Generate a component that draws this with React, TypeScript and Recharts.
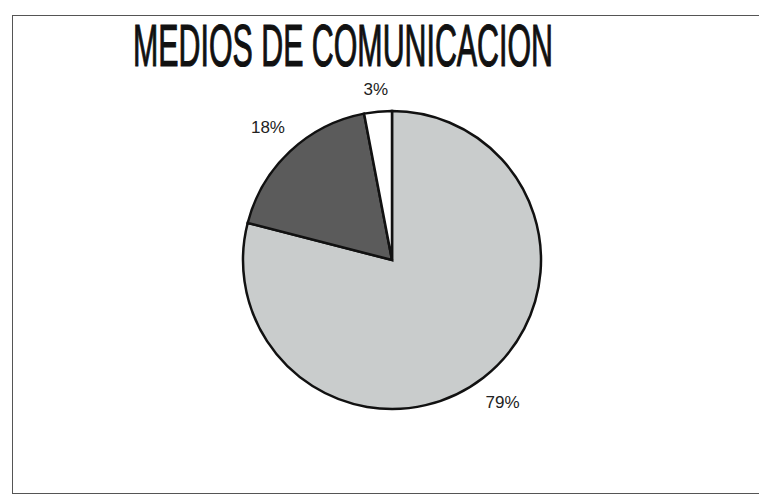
import { useLayoutEffect, useRef, useState } from 'react';
import { PieChart, Pie, Cell } from 'recharts';

const categories = ['Medio A', 'Medio B', 'Medio C'];
const values = [79, 18, 3];
const labels = ['79%', '18%', '3%'];
const colors = ['#c9cccc', '#5b5b5b', '#ffffff'];

const data = categories.map((name, i) => ({ name, value: values[i], label: labels[i] }));

const RAD = Math.PI / 180;

// place each label just outside the slice, pushed out by half its box in that direction
const renderLabel = (props: any) => {
  const { cx, cy, midAngle, outerRadius, index } = props;
  const c = Math.cos(-midAngle * RAD);
  const s = Math.sin(-midAngle * RAD);
  const hw = labels[index].length * 6.5;
  const hh = 8;
  const r = outerRadius + 13 + hw * Math.abs(c) + hh * Math.abs(s);
  return (
    <text x={cx + r * c} y={cy + r * s} fill="#222" fontSize={17} fontFamily="'Liberation Sans', Arial, sans-serif"
      textAnchor="middle" dominantBaseline="central">
      {labels[index]}
    </text>
  );
};

// condensed title: squeeze the text horizontally to the reference width
function Title() {
  const ref = useRef<HTMLDivElement>(null);
  const [sx, setSx] = useState(1);
  useLayoutEffect(() => {
    if (ref.current) setSx(420 / ref.current.offsetWidth);
  }, []);
  return (
    <div ref={ref} style={{
      position: 'absolute', left: 133, top: 20.5, fontSize: 60, lineHeight: '50px', whiteSpace: 'nowrap',
      fontFamily: "'Liberation Sans', Arial, sans-serif", color: '#111', WebkitTextStroke: '1.2px #111',
      transformOrigin: 'left top', transform: `scaleX(${sx})`,
    }}>
      MEDIOS DE COMUNICACION
    </div>
  );
}

export default function App() {
  return (
    <div style={{ position: 'absolute', left: 0, top: 0, width: 759, height: 499, background: '#fff', overflow: 'hidden' }}>
      <div style={{ position: 'absolute', left: 12, top: 15, width: 780, height: 477, border: '1.5px solid #555' }} />
      <Title />
      <div style={{ position: 'absolute', left: 0, top: 0 }}>
        <PieChart width={759} height={499} margin={{ top: 0, right: 0, bottom: 0, left: 0 }}>
          <Pie data={data} dataKey="value" cx={392} cy={260} outerRadius={149}
            startAngle={90} endAngle={-270} stroke="#111" strokeWidth={2.5}
            label={renderLabel} labelLine={false} isAnimationActive={false}>
            {data.map((d, i) => (
              <Cell key={d.name} fill={colors[i]} />
            ))}
          </Pie>
        </PieChart>
      </div>
    </div>
  );
}
